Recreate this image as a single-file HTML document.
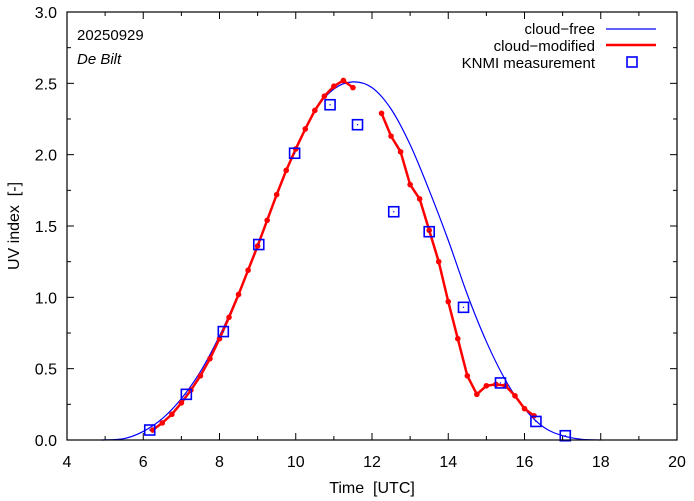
<!DOCTYPE html>
<html><head><meta charset="utf-8"><style>
body{margin:0;background:#fff}
svg{display:block;font-family:"Liberation Sans",sans-serif}
</style></head><body>
<svg id="chart" width="694" height="501" xmlns="http://www.w3.org/2000/svg"></svg>
<script>
const redTimes1=[6.25,6.5,6.75,7,7.25,7.5,7.75,8,8.25,8.5,8.75,9,9.25,9.5,9.75,10,10.25,10.5,10.75,11,11.25,11.5];
const redValues1=[0.07,0.12,0.18,0.26,0.35,0.45,0.57,0.71,0.86,1.02,1.19,1.36,1.54,1.72,1.89,2.04,2.18,2.31,2.41,2.48,2.52,2.47];
const redTimes2=[12.25,12.5,12.75,13,13.25,13.5,13.75,14,14.25,14.5,14.75,15,15.25,15.5,15.75,16,16.25];
const redValues2=[2.29,2.13,2.02,1.79,1.69,1.47,1.25,0.97,0.71,0.45,0.32,0.38,0.39,0.38,0.31,0.22,0.17];
const clearTimes=[4.9,5.5,6,6.5,7,7.5,8,8.5,9,9.5,10,10.5,11,11.5,12,12.5,13,13.5,14,14.5,15,15.5,16,16.5,17,17.5,18];
const clearValues=[0,0.01,0.06,0.15,0.29,0.48,0.73,1.03,1.37,1.72,2.04,2.31,2.46,2.51,2.47,2.32,2.07,1.75,1.40,1.02,0.69,0.42,0.22,0.09,0.03,0.005,0];
const measTimes=[6.17,7.13,8.1,9.03,9.97,10.9,11.62,12.57,13.5,14.4,15.37,16.3,17.07];
const measValues=[0.07,0.32,0.76,1.37,2.01,2.35,2.21,1.60,1.46,0.93,0.40,0.13,0.03];
const xTicks=[4,6,8,10,12,14,16,18,20];
const yTicks=[0,0.5,1,1.5,2,2.5,3];

const L=67,R=677,T=12,B=440;
const X=v=>L+(v-4)/16*(R-L);
const Y=v=>B-v/3*(B-T);
const svg=document.getElementById('chart');
const NS='http://www.w3.org/2000/svg';
function mk(tag,attrs,parent){const e=document.createElementNS(NS,tag);for(const k in attrs)e.setAttribute(k,attrs[k]);(parent||svg).appendChild(e);return e;}

const tg=mk('g',{});


for(let x=4;x<=20;x+=1){const px=X(x),len=(x%2===0)?7:4;
 mk('line',{x1:px,y1:B,x2:px,y2:B-len,stroke:'#000'},tg);mk('line',{x1:px,y1:T,x2:px,y2:T+len,stroke:'#000'},tg);}
for(let y=0;y<=3.001;y+=0.25){const py=Y(y),len=(Math.abs(y*2-Math.round(y*2))<1e-6)?7:4;
 mk('line',{x1:L,y1:py,x2:L+len,y2:py,stroke:'#000'},tg);mk('line',{x1:R,y1:py,x2:R-len,y2:py,stroke:'#000'},tg);}
xTicks.forEach(v=>{const t=mk('text',{x:X(v),y:467,'text-anchor':'middle','font-size':16},tg);t.textContent=v;
 });
yTicks.forEach(v=>{const t=mk('text',{x:57,y:Y(v)+6,'text-anchor':'end','font-size':16},tg);t.textContent=v.toFixed(1);
 });

function smooth(xs,ys){const p=xs.map((x,i)=>[X(x),Y(ys[i])]);let d='M'+p[0][0]+','+p[0][1];
 for(let i=0;i<p.length-1;i++){const p0=p[Math.max(i-1,0)],p1=p[i],p2=p[i+1],p3=p[Math.min(i+2,p.length-1)];
  d+=' C'+(p1[0]+(p2[0]-p0[0])/6)+','+(p1[1]+(p2[1]-p0[1])/6)+' '+(p2[0]-(p3[0]-p1[0])/6)+','+(p2[1]-(p3[1]-p1[1])/6)+' '+p2[0]+','+p2[1];}
 return d;}
const cf=mk('path',{d:smooth(clearTimes,clearValues),fill:'none',stroke:'#0000ff','stroke-width':1.2});



[[redTimes1,redValues1],[redTimes2,redValues2]].forEach(([xs,ys])=>{
 const pl=mk('polyline',{points:xs.map((x,i)=>X(x)+','+Y(ys[i])).join(' '),fill:'none',stroke:'#ff0000','stroke-width':2.5,'stroke-linejoin':'round'});
 
 
 xs.forEach((x,i)=>{const c=mk('circle',{cx:X(x),cy:Y(ys[i]),r:2.8,fill:'#ff0000'});
  
  });
});

measTimes.forEach((x,i)=>{const g=mk('g',{});
 
 
 mk('rect',{x:X(x)-5,y:Y(measValues[i])-5,width:10,height:10,fill:'none',stroke:'#0000ff','stroke-width':1.6},g);
 mk('rect',{x:X(x)-0.6,y:Y(measValues[i])-0.6,width:1.2,height:1.2,fill:'#0000ff'},g);});

const fr=mk('rect',{x:L,y:T,width:R-L,height:B-T,fill:'none',stroke:'#000','stroke-width':1.2});



function txt(s,attrs,name){const t=mk('text',attrs);t.textContent=s;return t;}
txt('Time \u00a0[UTC]',{x:372,y:493,'text-anchor':'middle','font-size':16},'x-axis-title');
txt('UV index \u00a0[-]',{x:19,y:226,'text-anchor':'middle','font-size':16,transform:'rotate(-90 19 226)'},'y-axis-title');
txt('20250929',{x:77,y:40,'font-size':15},'date-label');
txt('De Bilt',{x:77,y:64,'font-size':15,'font-style':'italic'},'location-label');
txt('cloud\u2212free',{x:595,y:34,'text-anchor':'end','font-size':15},'legend-cloud-free');
let l1=mk('line',{x1:606,y1:29,x2:656,y2:29,stroke:'#0000ff','stroke-width':1.2});


txt('cloud\u2212modified',{x:595,y:51,'text-anchor':'end','font-size':15},'legend-cloud-modified');
let l2=mk('line',{x1:606,y1:45,x2:656,y2:45,stroke:'#ff0000','stroke-width':2.5});


txt('KNMI measurement',{x:595,y:68,'text-anchor':'end','font-size':15},'legend-knmi-measurement');
let l3=mk('rect',{x:627,y:57,width:10,height:10,fill:'none',stroke:'#0000ff','stroke-width':1.6});


</script>
</body></html>
